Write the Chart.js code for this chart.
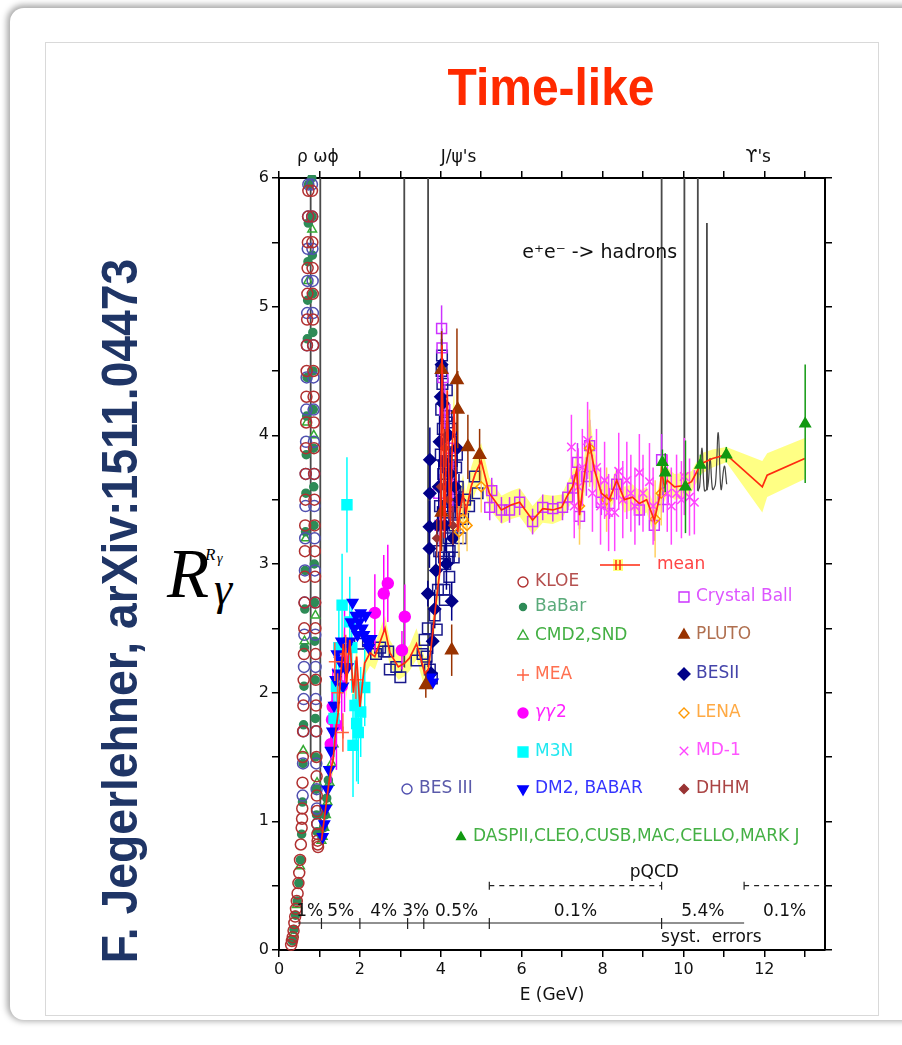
<!DOCTYPE html>
<html>
<head>
<meta charset="utf-8">
<script src="https://cdn.jsdelivr.net/npm/chart.js@4.4.1/dist/chart.umd.min.js"></script>
<style>
  html, body { margin: 0; padding: 0; background: #fff; overflow: hidden; }
  body { width: 902px; height: 1045px; position: relative; }
  #frame { position: absolute; left: 0; top: 0; width: 902px; height: 1045px; overflow: hidden; }
  .slide { position: absolute; left: 10px; top: 8px; width: 2000px; height: 1012px; border-radius: 14px;
           background: #fff; box-shadow: -1px -1px 6px 2px rgba(0,0,0,0.35); }
  .inner { position: absolute; left: 45px; top: 42px; width: 832px; height: 972px; border: 1px solid #d9d9d9; }
  #title { position: absolute; left: 351px; width: 400px; top: 58px; text-align: center; line-height: 1;
           font: bold 51px "Liberation Sans", Arial, sans-serif; color: #ff2a00; transform: scaleX(0.94); }
  #author { position: absolute; left: 119.5px; top: 611px; line-height: 1; white-space: nowrap;
            font: bold 50px "Liberation Sans", Arial, sans-serif; color: #1f3566;
            transform: translate(-50%, -50%) rotate(-90deg) scaleX(0.925); }
  .rl { position: absolute; line-height: 1; font-family: "Liberation Serif", serif; font-style: italic; color: #000; }
  #c { position: absolute; left: 0; top: 0; }
</style>
</head>
<body>
<div id="frame">
  <div class="slide"></div>
  <div class="inner"></div>
  <div id="title">Time-like</div>
  <div id="author">F. Jegerlehner, arXiv:1511.04473</div>
  <div class="rl" style="left:167px; top:540px; font-size:69px;">R</div>
  <div class="rl" style="left:214px; top:566px; font-size:46px;">γ</div>
  <div class="rl" style="left:205px; top:546px; font-size:17px;">R</div>
  <div class="rl" style="left:217px; top:552px; font-size:14px;">γ</div>
  <canvas id="c" width="902" height="1045"></canvas>
</div>

<script>
// ---- data: [E (GeV), R] or [E, R, error] ----
const kloePts = [[0.30,0.04],[0.32,0.07],[0.34,0.10],[0.36,0.15],[0.38,0.21],[0.40,0.26],[0.42,0.32],[0.44,0.38],[0.46,0.44],[0.48,0.52],[0.50,0.60],[0.52,0.70],[0.54,0.82],[0.56,0.95],[0.57,1.02],
  [0.575,1.10],[0.582,1.30],[0.589,1.50],[0.596,1.70],[0.603,1.90],[0.610,2.10],[0.617,2.30],[0.624,2.50],[0.630,2.70],[0.636,2.90],[0.642,3.10],[0.648,3.30],[0.654,3.50],[0.660,3.70],[0.666,3.90],[0.672,4.10],[0.678,4.30],[0.684,4.50],[0.690,4.70],[0.696,4.90],[0.702,5.10],[0.708,5.30],[0.714,5.50],[0.720,5.70],[0.726,5.90],[0.732,6.10],[0.738,6.30],
  [0.805,6.30],[0.810,6.10],[0.815,5.90],[0.820,5.70],[0.825,5.50],[0.830,5.30],[0.835,5.10],[0.840,4.90],[0.845,4.70],[0.850,4.50],[0.855,4.30],[0.860,4.10],[0.865,3.90],[0.870,3.70],[0.875,3.50],[0.880,3.30],[0.885,3.10],[0.890,2.90],[0.895,2.70],[0.900,2.50],[0.905,2.30],[0.910,2.10],[0.915,1.90],[0.920,1.70],[0.925,1.50],[0.930,1.35],[0.935,1.20],[0.940,1.08],[0.945,0.98],[0.950,0.90],[0.955,0.85],[0.960,0.82],[0.965,0.80]];
const bes3Pts = [[0.585,1.20],[0.594,1.45],[0.603,1.70],[0.611,1.95],[0.619,2.20],[0.627,2.45],[0.634,2.70],[0.641,2.95],[0.648,3.20],[0.655,3.45],[0.662,3.70],[0.669,3.95],[0.676,4.20],[0.683,4.45],[0.690,4.70],[0.697,4.95],[0.704,5.20],[0.711,5.45],[0.718,5.70],[0.725,5.95],[0.732,6.20],
  [0.808,6.20],[0.814,5.95],[0.820,5.70],[0.826,5.45],[0.832,5.20],[0.838,4.95],[0.844,4.70],[0.850,4.45],[0.856,4.20],[0.862,3.95],[0.868,3.70],[0.874,3.45],[0.880,3.20],[0.886,2.95],[0.892,2.70],[0.898,2.45],[0.904,2.20],[0.910,1.95],[0.916,1.70],[0.922,1.45],[0.930,1.25],[0.938,1.10],[0.946,0.98]];
const babarPts = [[0.33,0.07],[0.37,0.16],[0.41,0.27],[0.45,0.38],[0.49,0.52],[0.53,0.70],[0.56,0.90],[0.58,1.15],[0.595,1.45],[0.607,1.75],[0.618,2.05],[0.628,2.35],[0.638,2.65],[0.647,2.95],[0.656,3.25],[0.665,3.55],[0.674,3.85],[0.683,4.15],[0.692,4.45],[0.700,4.75],[0.708,5.05],[0.716,5.35],[0.724,5.65],[0.732,5.95],
  [0.812,6.00],[0.818,5.70],[0.824,5.40],[0.830,5.10],[0.836,4.80],[0.842,4.50],[0.848,4.20],[0.854,3.90],[0.860,3.60],[0.866,3.30],[0.872,3.00],[0.878,2.70],[0.884,2.40],[0.890,2.10],[0.898,1.80],[0.906,1.50],[0.916,1.25],[0.928,1.05],[0.940,0.92],
  [1.06,0.88],[1.10,0.95],[1.14,1.05],[1.18,1.18],[1.22,1.32]];
const cmdPts = [[0.36,0.12],[0.44,0.35],[0.52,0.65],[0.60,1.55],[0.63,2.40],[0.66,3.20],[0.69,4.10],[0.72,5.20],
  [0.82,5.60],[0.86,4.00],[0.90,2.60],[0.94,1.30],[1.05,0.85],[1.08,0.88],[1.12,0.95],[1.16,1.05],[1.20,1.15],[1.25,1.30],[1.30,1.45],[1.35,1.60]];
const dm2Pts = [[1.08,0.88],[1.12,0.98],[1.16,1.10],[1.20,1.25],[1.24,1.40],[1.28,1.55],[1.32,1.70],[1.36,1.90],[1.40,2.10],[1.43,2.30],[1.46,2.15],[1.50,2.25],[1.54,2.40],[1.58,2.05],[1.62,2.20],[1.66,2.35],[1.70,2.20],[1.74,2.40],[1.78,2.55],[1.82,2.70],[1.86,2.50],[1.90,2.60],[1.94,2.45],[1.98,2.55],[2.02,2.62],[2.06,2.50],[2.10,2.45],[2.14,2.60],[2.18,2.40],[2.22,2.35],[2.28,2.42],[3.74,2.12],[3.80,2.08]];
const m3nPts = [[1.36,1.80,0.30],[1.42,2.05,0.30],[1.48,2.35,0.35],[1.56,2.68,0.40],[1.68,3.46,0.37],[1.75,2.55,0.35],[1.80,2.35,0.35],[1.83,1.59,0.40],[1.88,1.90,0.35],[1.92,1.76,0.45],[1.96,1.69,0.40],[2.02,1.85,0.35],[2.12,2.04,0.30]];
const ggPts = [[1.28,1.60,0.30],[1.31,1.79,0.30],[1.33,1.89,0.30],[1.42,1.75,0.35],[1.55,2.05,0.35],[1.62,2.25,0.40],[2.37,2.62,0.30],[2.59,2.77,0.30],[2.69,2.85,0.30],[3.04,2.33,0.15],[3.11,2.59,0.25]];
const meaPts = [[1.38,2.24,0.15],[1.45,2.00,0.15],[1.58,1.69,0.15],[1.65,2.30,0.15],[1.90,2.10,0.15]];
const besPts = [[2.00,2.38],[2.20,2.40],[2.40,2.30],[2.50,2.35],[2.60,2.32],[2.70,2.32],[2.74,2.18],[2.90,2.20],[3.00,2.12],[3.40,2.25],[3.55,2.30],[3.60,2.41],[3.65,2.28],[3.68,2.50],[3.73,2.18],[3.78,2.11],[3.85,2.60],[3.90,2.49],[3.93,2.80],[3.96,3.10],[3.98,3.45],[4.00,3.85],[4.01,4.20],[4.02,4.50],[4.03,4.62],[4.04,4.40],[4.05,4.05],[4.06,3.70],[4.07,3.35],[4.08,3.05],[4.09,2.80],[4.10,2.72],[4.11,3.00],[4.12,3.40],[4.13,3.80],[4.14,4.15],[4.15,4.35],[4.16,4.10],[4.17,3.75],[4.18,3.45],[4.19,3.20],[4.20,3.05],[4.21,2.90],[4.22,3.10],[4.23,3.40],[4.24,3.70],[4.25,3.95],[4.26,4.05],[4.27,3.80],[4.28,3.50],[4.30,3.25],[4.32,3.05],[4.34,3.30],[4.36,3.55],[4.38,3.75],[4.40,3.85],[4.42,3.60],[4.45,3.40],[4.50,3.20],[4.55,3.35],[4.60,3.50],[4.70,3.45],[4.84,3.68],[4.91,3.55]];
const besiiPts = [[3.73,3.81,0.25],[3.73,3.55,0.30],[3.72,3.29,0.20],[3.72,3.12,0.15],[3.68,2.77,0.10],[3.76,2.15,0.10],[3.80,2.40,0.10],[3.85,2.65,0.15],[3.88,2.95,0.15],[3.92,3.30,0.15],[3.95,3.60,0.20],[3.97,3.95,0.20],[4.00,4.30,0.20],[4.02,4.55,0.20],[4.05,4.25,0.20],[4.08,3.80,0.20],[4.11,3.30,0.20],[4.14,3.00,0.20],[4.17,3.60,0.20],[4.20,4.00,0.20],[4.23,3.70,0.20],[4.27,2.71,0.15],[4.30,3.20,0.20],[4.35,3.60,0.20],[4.40,3.90,0.20],[4.45,3.50,0.20]];
const cbPts = [[3.95,3.55,0.15],[3.98,3.30,0.15],[4.02,4.83,0.18],[4.03,4.68,0.15],[4.05,4.45,0.15],[4.10,4.20,0.20],[4.20,3.90,0.20],[4.30,3.60,0.20],[5.21,3.44,0.10],[5.26,3.57,0.10],[5.50,3.42,0.10],[5.70,3.42,0.10],[5.95,3.48,0.10],[6.27,3.33,0.10],[6.52,3.44,0.10],[6.77,3.43,0.10],[7.01,3.44,0.10],[7.14,3.52,0.10],[7.26,3.59,0.10],[7.38,3.79,0.15],[7.43,3.37,0.10],[7.60,3.68,0.15],[7.68,3.92,0.20],[7.97,3.48,0.10],[8.17,3.47,0.12],[8.35,3.62,0.12],[8.91,3.42,0.12],[9.28,3.30,0.12],[9.46,3.81,0.20],[9.50,3.50,0.10]];
const plutoPts = [[3.63,2.06,0.10],[4.02,4.51,0.30],[4.02,3.40,0.30],[4.27,2.33,0.20],[4.40,4.43,0.40],[4.42,4.20,0.30],[4.67,3.91,0.25],[4.96,3.85,0.20]];
const lenaPts = [[4.45,3.25,0.20],[4.55,3.35,0.20],[4.65,3.30,0.20],[5.00,3.60,0.20],[7.43,3.45,0.30],[7.68,3.90,0.30],[8.10,3.50,0.25],[9.30,3.35,0.30],[9.45,3.55,0.25]];
const md1Pts = [[7.23,3.91,0.25],[7.30,3.45,0.25],[7.40,3.60,0.30],[7.50,3.75,0.30],[7.63,3.96,0.30],[7.75,3.55,0.30],[7.85,3.75,0.30],[7.95,3.45,0.30],[8.05,3.65,0.30],[8.15,3.40,0.30],[8.30,3.40,0.30],[8.40,3.72,0.30],[8.50,3.50,0.30],[8.60,3.65,0.30],[8.70,3.55,0.30],[8.80,3.45,0.30],[8.91,3.71,0.30],[9.00,3.55,0.30],[9.16,3.64,0.30],[9.25,3.45,0.30],[9.60,3.55,0.30],[9.70,3.45,0.30],[9.83,3.55,0.30],[9.95,3.50,0.30],[10.02,3.68,0.30],[10.15,3.52,0.30],[10.27,3.48,0.25]];
const dhhmPts = [[3.90,3.20,0.15],[4.00,3.60,0.15],[4.10,3.90,0.15],[4.20,3.50,0.15],[4.30,3.30,0.15]];
const daspPts = [[9.48,3.79,0.10],[9.55,3.71,0.15],[10.05,3.60,0.36],[10.42,3.77,0.08],[11.06,3.85,0.06],[13.01,4.09,0.46]];
// mean R with half-width of the yellow error band: [E, R, dR]
const meanPts = [[1.05,0.85,0.05],[1.12,1.02,0.06],[1.20,1.22,0.08],[1.28,1.40,0.10],[1.34,1.48,0.10],[1.40,1.70,0.10],[1.47,1.86,0.12],[1.53,2.15,0.12],[1.59,2.38,0.12],[1.67,2.07,0.12],[1.75,2.41,0.12],[1.84,2.00,0.12],[1.92,2.28,0.10],[2.00,1.89,0.10],[2.12,2.23,0.10],[2.25,2.31,0.10],[2.37,2.28,0.10],[2.62,2.50,0.10],[2.74,2.31,0.10],[2.95,2.20,0.10],[3.11,2.23,0.10],[3.23,2.27,0.10],[3.40,2.38,0.12],[3.52,2.25,0.12],[3.60,2.15,0.12],[3.69,2.18,0.12],[3.77,2.38,0.12],[3.89,2.72,0.12],[3.98,2.95,0.15],[4.03,4.70,0.20],[4.06,3.90,0.20],[4.09,3.20,0.20],[4.12,3.60,0.20],[4.16,4.35,0.20],[4.20,3.70,0.20],[4.24,3.30,0.20],[4.28,3.90,0.20],[4.33,4.20,0.20],[4.38,3.60,0.20],[4.42,3.25,0.20],[4.47,3.40,0.15],[4.55,3.55,0.15],[4.62,3.40,0.15],[4.75,3.60,0.15],[4.85,3.70,0.15],[5.00,3.80,0.14],[5.20,3.55,0.12],[5.50,3.42,0.11],[5.75,3.46,0.11],[5.95,3.48,0.11],[6.27,3.34,0.11],[6.52,3.43,0.11],[6.77,3.42,0.11],[6.99,3.44,0.10],[7.11,3.52,0.10],[7.26,3.60,0.12],[7.36,3.73,0.15],[7.43,3.38,0.15],[7.56,3.71,0.15],[7.68,3.94,0.22],[7.80,3.73,0.15],[7.97,3.55,0.10],[8.17,3.50,0.10],[8.35,3.65,0.10],[8.54,3.50,0.10],[8.74,3.52,0.10],[8.91,3.47,0.10],[9.09,3.50,0.10],[9.28,3.34,0.12],[9.41,3.52,0.12],[9.46,3.73,0.15],[9.53,3.60,0.12],[9.60,3.65,0.10],[9.78,3.60,0.10],[10.02,3.61,0.10],[10.20,3.64,0.08],[10.44,3.78,0.08],[10.72,3.82,0.07],[11.06,3.85,0.06],[11.95,3.60,0.20],[12.07,3.69,0.17],[13.00,3.82,0.16]];
// narrow resonances (drawn as spikes) and the Upsilon wiggles
const resonances = [
  [[0.780,1.50],[0.782,7.0],[0.784,1.50]],
  [[1.015,0.90],[1.019,7.0],[1.023,0.90]],
  [[3.096,2.20],[3.097,7.0],[3.098,2.20]],
  [[3.685,2.20],[3.686,7.0],[3.687,2.20]],
  [[9.459,3.55],[9.460,7.0],[9.461,3.55]],
  [[10.022,3.55],[10.023,7.0],[10.024,3.55]],
  [[10.354,3.57],[10.355,7.0],[10.356,3.57]],
  [[10.575,3.58],[10.580,5.65],[10.585,3.58]]
];
const upsWiggle = [[10.36,3.57],[10.40,3.60],[10.46,3.90],[10.52,3.57],[10.60,3.60],[10.66,3.82],[10.72,3.58],[10.79,3.62],[10.86,4.02],[10.93,3.58],[11.01,3.76],[11.07,3.62]];
// systematic-error bands along the bottom
const systBreaks = [0.47, 1.05, 2.0, 3.18, 3.58, 5.2, 9.46, 11.5, 13.5];
const systLabels = ['1%', '5%', '4%', '3%', '0.5%', '0.1%', '5.4%', '0.1%'];
const pqcdRanges = [[5.2, 9.46], [11.5, 13.5]];
const topLabels = [[0.96, 'ρ ωϕ'], [4.44, "J/ψ's"], [11.85, "ϒ's"]];
const xTickLabels = [0, 2, 4, 6, 8, 10, 12];
const yTickLabels = [0, 1, 2, 3, 4, 5, 6];

const xy = pts => pts.map(p => ({ x: p[0], y: p[1] }));
const errs = pts => pts.map(p => p[2] || 0);

function pts(label, data, style, color, radius, filled, order, extra) {
  return Object.assign({
    label: label, data: xy(data), errs: errs(data), errColor: color,
    pointStyle: style, pointRadius: radius, pointBorderColor: color, pointBorderWidth: 1.5,
    pointBackgroundColor: filled ? color : 'rgba(0,0,0,0)', order: order, clip: 3
  }, extra || {});
}
function line(label, data, color, width, order, extra) {
  return Object.assign({
    type: 'line', label: label, data: data, borderColor: color, borderWidth: width,
    pointRadius: 0, fill: false, order: order, clip: 0
  }, extra || {});
}

const datasets = [
  line('band+', meanPts.map(p => ({ x: p[0], y: p[1] + p[2] })), 'rgba(0,0,0,0)', 0, 100,
       { fill: '+1', backgroundColor: 'rgba(255,255,110,0.85)' }),
  line('band-', meanPts.map(p => ({ x: p[0], y: p[1] - p[2] })), 'rgba(0,0,0,0)', 0, 100),
];
resonances.forEach((r, i) => datasets.push(line('res' + i, xy(r), '#4a4a4a', 1.8, 90)));
datasets.push(line('ups', xy(upsWiggle), '#444', 1.2, 90, { tension: 0.4 }));
datasets.push(
  pts('BaBar', babarPts, 'circle', '#2e8b57', 4, true, 42),
  pts('CMD2,SND', cmdPts, 'triangle', '#33aa33', 5, false, 43),
  pts('KLOE', kloePts, 'circle', '#b03030', 5.5, false, 40),
  pts('BES III', bes3Pts, 'circle', '#5050b0', 5.5, false, 41),
  pts('DM2, BABAR', dm2Pts, 'triangle', '#0000ff', 6, true, 30, { pointRotation: 180 }),
  pts('M3N', m3nPts, 'rect', '#00ffff', 7, true, 31),
  pts('gg2', ggPts, 'circle', '#ff00ff', 5.5, true, 32),
  pts('MEA', meaPts, 'cross', '#ff6040', 6, false, 29),
  pts('BES', besPts, 'rect', '#1a1a8c', 7.5, false, 35),
  pts('Crystal Ball', cbPts, 'rect', '#cc33ff', 7, false, 34),
  pts('BESII', besiiPts, 'rectRot', '#000088', 6, true, 33),
  pts('PLUTO', plutoPts, 'triangle', '#993300', 7, true, 28),
  pts('LENA', lenaPts, 'rectRot', '#ff9900', 5, false, 27, { errColor: '#ffd060' }),
  pts('MD-1', md1Pts, 'crossRot', '#ff44ff', 6, false, 26),
  pts('DHHM', dhhmPts, 'rectRot', '#993333', 4, true, 25),
  line('mean', xy(meanPts), '#ff2a10', 1.7, 5),
  pts('DASPII', daspPts, 'triangle', '#119911', 6, true, 2)
);

const FONT = '"DejaVu Sans", sans-serif';
function txt(ctx, s, x, y, color, size, align, italic) {
  ctx.save();
  ctx.font = (italic ? 'italic ' : '') + size + 'px ' + FONT;
  ctx.fillStyle = color;
  ctx.textBaseline = 'middle';
  ctx.textAlign = align || 'left';
  ctx.fillText(s, x, y);
  ctx.restore();
}

// vertical error bars, drawn just before each dataset's markers
const errorBars = {
  id: 'errorBars',
  beforeDatasetDraw(chart, args) {
    const ds = chart.data.datasets[args.index];
    if (!ds.errs) return;
    const { ctx, chartArea: a } = chart;
    const yS = chart.scales.y;
    ctx.save();
    ctx.beginPath();
    ctx.rect(a.left, a.top, a.right - a.left, a.bottom - a.top);
    ctx.clip();
    ctx.strokeStyle = ds.errColor;
    ctx.lineWidth = 1.5;
    args.meta.data.forEach((p, j) => {
      const e = ds.errs[j];
      if (!e) return;
      const v = ds.data[j].y;
      ctx.beginPath();
      ctx.moveTo(p.x, yS.getPixelForValue(v - e));
      ctx.lineTo(p.x, yS.getPixelForValue(v + e));
      ctx.stroke();
    });
    ctx.restore();
  }
};

const legendItems = [
  { t: 'KLOE', x: 523, y: 582, s: 'circle', r: 5, f: false, mc: '#b03030', tc: '#b5504f' },
  { t: 'BaBar', x: 523, y: 607, s: 'circle', r: 3.5, f: true, mc: '#2e8b57', tc: '#5aaa7a' },
  { t: 'CMD2,SND', x: 523, y: 636, s: 'triangle', r: 6, f: false, mc: '#33aa33', tc: '#44b044' },
  { t: 'MEA', x: 523, y: 675, s: 'cross', r: 6, f: false, mc: '#ff6040', tc: '#ff7050' },
  { t: 'γγ', x: 523, y: 713, s: 'circle', r: 5, f: true, mc: '#ff00ff', tc: '#ff22ff', it: true },
  { t: 'M3N', x: 523, y: 752, s: 'rect', r: 7, f: true, mc: '#00ffff', tc: '#22e8f0' },
  { t: 'DM2, BABAR', x: 523, y: 789, s: 'triangle', rot: 180, r: 6, f: true, mc: '#0000ff', tc: '#3535ff' },
  { t: 'BES III', x: 407, y: 789, s: 'circle', r: 5, f: false, mc: '#5050b0', tc: '#5a5aaa' },
  { t: 'Crystal Ball', x: 684, y: 597, s: 'rect', r: 7, f: false, mc: '#cc33ff', tc: '#dd55ff' },
  { t: 'PLUTO', x: 684, y: 635, s: 'triangle', r: 6, f: true, mc: '#993300', tc: '#b07050' },
  { t: 'BESII', x: 684, y: 674, s: 'rectRot', r: 6, f: true, mc: '#000088', tc: '#4444aa' },
  { t: 'LENA', x: 684, y: 713, s: 'rectRot', r: 5, f: false, mc: '#ff9900', tc: '#ffaa44' },
  { t: 'MD-1', x: 684, y: 751, s: 'crossRot', r: 6, f: false, mc: '#ff44ff', tc: '#ff55ff' },
  { t: 'DHHM', x: 684, y: 789, s: 'rectRot', r: 4.5, f: true, mc: '#993333', tc: '#aa4444' },
  { t: 'DASPII,CLEO,CUSB,MAC,CELLO,MARK J', x: 461, y: 837, s: 'triangle', r: 5, f: true, mc: '#119911', tc: '#44b044' }
];

const annotate = {
  id: 'annotate',
  afterDraw(chart) {
    const { ctx } = chart;
    const xS = chart.scales.x, yS = chart.scales.y;
    topLabels.forEach(([e, s]) => txt(ctx, s, xS.getPixelForValue(e), 158, '#111', 17, 'center'));
    txt(ctx, 'e⁺e⁻ -> hadrons', xS.getPixelForValue(7.93), yS.getPixelForValue(5.42), '#111', 19, 'center');

    // systematic errors
    const ySol = yS.getPixelForValue(0.21);
    ctx.save();
    ctx.strokeStyle = '#222';
    ctx.lineWidth = 1.2;
    ctx.beginPath();
    ctx.moveTo(xS.getPixelForValue(systBreaks[0]), ySol);
    ctx.lineTo(xS.getPixelForValue(systBreaks[7]), ySol);
    for (let i = 1; i < 7; i++) {
      const px = xS.getPixelForValue(systBreaks[i]);
      ctx.moveTo(px, ySol - 5);
      ctx.lineTo(px, ySol + 6);
    }
    ctx.stroke();
    const yDash = yS.getPixelForValue(0.5);
    ctx.setLineDash([5, 5]);
    ctx.beginPath();
    pqcdRanges.forEach(([a, b]) => {
      ctx.moveTo(xS.getPixelForValue(a), yDash);
      ctx.lineTo(xS.getPixelForValue(b), yDash);
    });
    ctx.stroke();
    ctx.setLineDash([]);
    ctx.beginPath();
    [5.2, 9.46, 11.5].forEach(e => {
      const px = xS.getPixelForValue(e);
      ctx.moveTo(px, yDash - 4);
      ctx.lineTo(px, yDash + 4);
    });
    ctx.stroke();
    ctx.restore();
    systLabels.forEach((s, i) => {
      const c = (systBreaks[i] + systBreaks[i + 1]) / 2;
      txt(ctx, s, xS.getPixelForValue(c), yS.getPixelForValue(0.30), '#111', 17, 'center');
    });
    txt(ctx, 'syst.  errors', xS.getPixelForValue(10.69), yS.getPixelForValue(0.093), '#111', 17, 'center');
    txt(ctx, 'pQCD', xS.getPixelForValue(9.28), yS.getPixelForValue(0.60), '#111', 17, 'center');

    // legend
    ctx.save();
    ctx.strokeStyle = '#ff2a10';
    ctx.lineWidth = 1.5;
    ctx.fillStyle = 'rgba(255,255,110,0.9)';
    ctx.fillRect(613, 559, 10, 12);
    ctx.beginPath();
    ctx.moveTo(600, 565); ctx.lineTo(640, 565);
    ctx.moveTo(616, 560); ctx.lineTo(616, 570);
    ctx.moveTo(620, 560); ctx.lineTo(620, 570);
    ctx.stroke();
    ctx.restore();
    txt(ctx, 'mean', 657, 565, '#ff4444', 17);
    legendItems.forEach(it => {
      ctx.save();
      ctx.strokeStyle = it.mc;
      ctx.fillStyle = it.f ? it.mc : 'rgba(0,0,0,0)';
      ctx.lineWidth = 1.4;
      Chart.helpers.drawPoint(ctx, { pointStyle: it.s, radius: it.r, rotation: it.rot || 0, borderWidth: 1.4 }, it.x, it.y);
      ctx.restore();
      txt(ctx, it.t, it.x + 12, it.y, it.tc, 17, 'left', it.it);
      if (it.it) {
        ctx.save();
        ctx.font = 'italic 17px ' + FONT;
        const w = ctx.measureText('γγ').width;
        ctx.restore();
        txt(ctx, '2', it.x + 12 + w + 1, it.y, it.tc, 17);
      }
    });
  }
};

const axisFont = { family: '"DejaVu Sans", sans-serif', size: 16 };
const gridOpts = { drawOnChartArea: false, drawTicks: true, tickLength: 7, color: '#000', lineWidth: 1.5 };
const borderOpts = { display: true, color: '#000', width: 2 };

new Chart(document.getElementById('c'), {
  type: 'scatter',
  data: { datasets: datasets },
  options: {
    responsive: false,
    animation: false,
    events: [],
    layout: { padding: { left: 249, top: 138, right: 67, bottom: 35 } },
    plugins: { legend: { display: false }, tooltip: { enabled: false } },
    scales: {
      x: {
        type: 'linear', position: 'bottom', min: 0, max: 13.5,
        ticks: { stepSize: 1, includeBounds: false, autoSkip: false, maxRotation: 0, color: '#111', font: axisFont,
                 callback: v => xTickLabels.includes(v) ? String(v) : '' },
        grid: gridOpts, border: borderOpts,
        title: { display: true, text: 'E (GeV)', color: '#111', font: { family: '"DejaVu Sans", sans-serif', size: 17 }, padding: { top: 0, bottom: 4 } },
        afterFit: s => { s.height = 60; }
      },
      x2: {
        type: 'linear', position: 'top', min: 0, max: 13.5,
        ticks: { display: false, stepSize: 1, includeBounds: false },
        grid: gridOpts, border: borderOpts,
        afterFit: s => { s.height = 40; }
      },
      y: {
        type: 'linear', position: 'left', min: 0, max: 6,
        ticks: { stepSize: 0.5, autoSkip: false, color: '#111', font: axisFont,
                 callback: v => yTickLabels.includes(v) ? String(v) : '' },
        grid: gridOpts, border: borderOpts,
        afterFit: s => { s.width = 30; }
      },
      y2: {
        type: 'linear', position: 'right', min: 0, max: 6,
        ticks: { display: false, stepSize: 0.5 },
        grid: gridOpts, border: borderOpts,
        afterFit: s => { s.width = 10; }
      }
    }
  },
  plugins: [errorBars, annotate]
});
</script>
</body>
</html>
